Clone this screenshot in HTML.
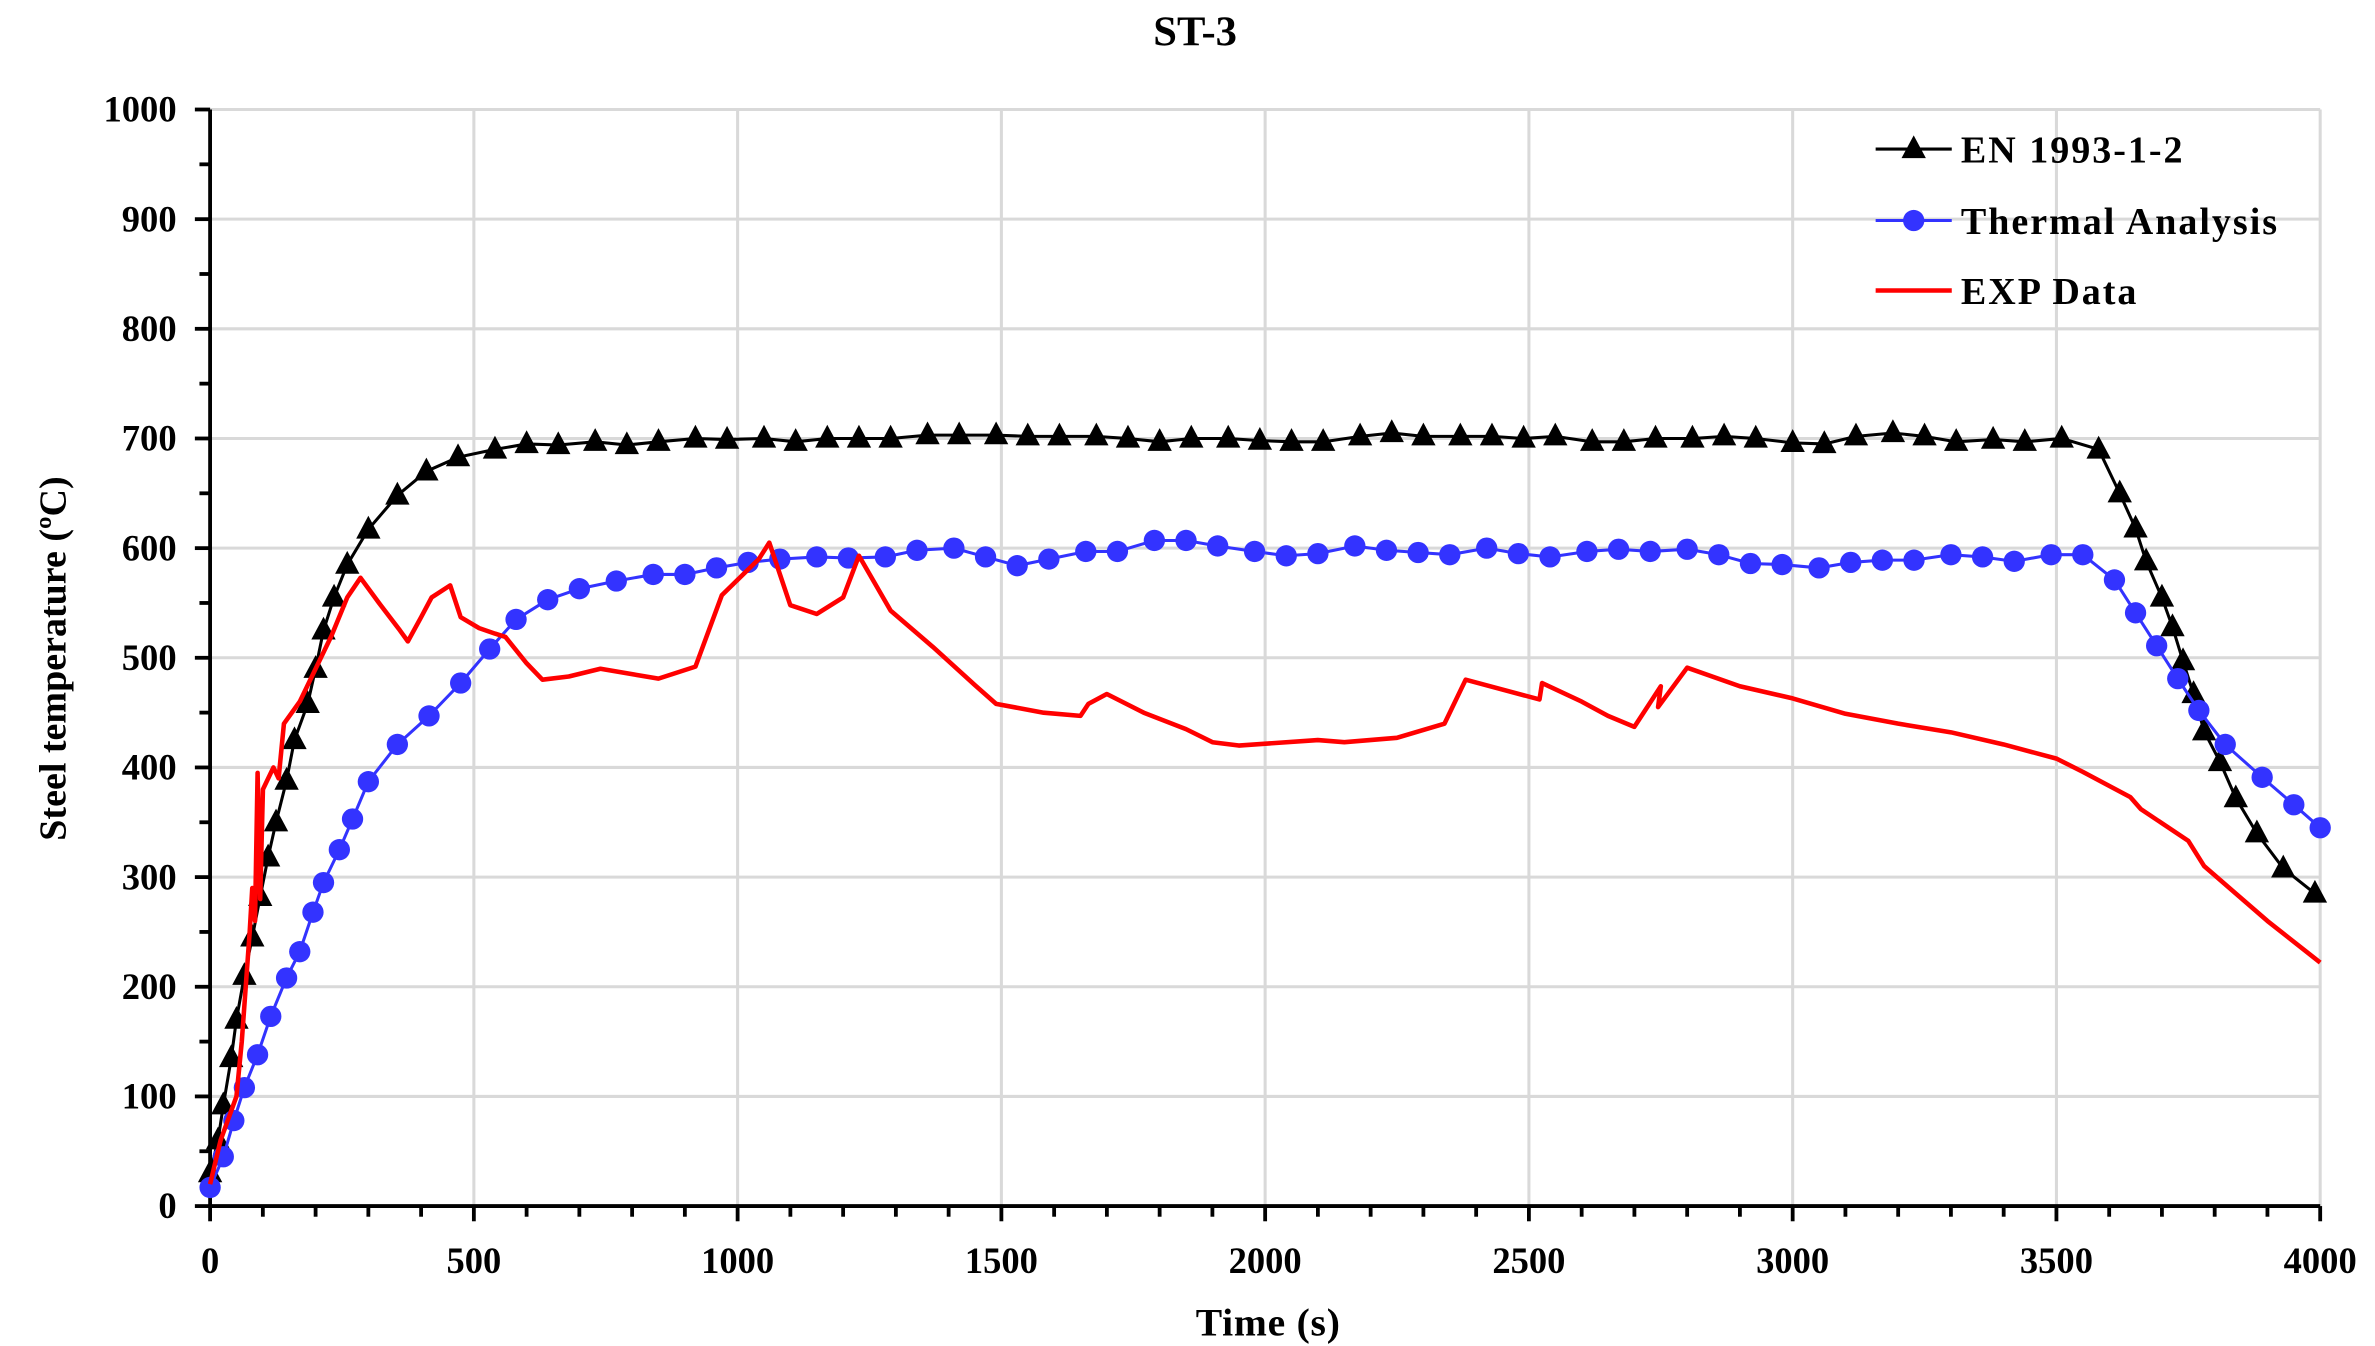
<!DOCTYPE html>
<html><head><meta charset="utf-8"><style>
html,body{margin:0;padding:0;background:#fff;}
svg{display:block;}
text{font-family:"Liberation Serif",serif;font-weight:bold;fill:#000;}
</style></head><body>
<svg id="s" width="2375" height="1346" viewBox="0 0 1560 885" preserveAspectRatio="none" xmlns="http://www.w3.org/2000/svg">
<text x="785" y="30" font-size="28" text-anchor="middle">ST-3</text>
<g id="grid" stroke="#d9d9d9" stroke-width="2"></g>
<g id="axes" stroke="#000" stroke-width="2.5"></g>
<g id="labels" font-size="24"></g>
<text x="833" y="878" font-size="26" text-anchor="middle" letter-spacing="0.5">Time  (s)</text>
<text transform="translate(43,433) rotate(-90)" font-size="25" text-anchor="middle">Steel temperature  (ºC)</text>
<g id="series"></g>
<g font-size="25" letter-spacing="1.3">
<line x1="1232" y1="98" x2="1282" y2="98" stroke="#000" stroke-width="2"/><polygon points="1257,89 1249,104 1265,104" fill="#000"/>
<text x="1288" y="107">EN 1993-1-2</text>
<line x1="1232" y1="145" x2="1282" y2="145" stroke="#3333ff" stroke-width="2"/><circle cx="1257" cy="145" r="7" fill="#3333ff"/>
<text x="1288" y="154">Thermal Analysis</text>
<line x1="1232" y1="191" x2="1282" y2="191" stroke="#ff0000" stroke-width="3"/>
<text x="1288" y="200">EXP Data</text>
</g>
</svg>
<script>
const X=t=>138+t*(1524-138)/4000, Y=v=>793-v*(793-72)/1000;
const NS="http://www.w3.org/2000/svg";
function el(p,n,a){const e=document.createElementNS(NS,n);for(const k in a)e.setAttribute(k,a[k]);document.getElementById(p).appendChild(e);return e;}
for(let t=500;t<=4000;t+=500)el("grid","line",{x1:X(t),y1:72,x2:X(t),y2:793});
for(let v=100;v<=1000;v+=100)el("grid","line",{x1:138,y1:Y(v),x2:1524,y2:Y(v)});
el("axes","line",{x1:138,y1:72,x2:138,y2:794});
el("axes","line",{x1:137,y1:793,x2:1524,y2:793});
for(let v=0;v<=1000;v+=50)el("axes","line",{x1:v%100?131:128,y1:Y(v),x2:138,y2:Y(v)});
for(let t=0;t<=4000;t+=100)el("axes","line",{x1:X(t),y1:793,x2:X(t),y2:t%500?800:803});
for(let v=0;v<=1000;v+=100){const e=el("labels","text",{x:116,y:Y(v)+8,"text-anchor":"end"});e.textContent=v;}
for(let t=0;t<=4000;t+=500){const e=el("labels","text",{x:X(t),y:837,"text-anchor":"middle"});e.textContent=t;}
const en=[[0,30],[15,60],[25,92],[40,135],[50,170],[65,210],[80,245],[95,282],[110,318],[125,350],[145,388],[160,425],[185,458],[200,490],[215,525],[235,555],[260,585],[300,617],[355,648],[410,670],[470,683],[540,690],[600,695],[660,694],[730,697],[790,694],[850,697],[920,700],[980,699],[1050,700],[1110,697],[1170,700],[1230,700],[1290,700],[1360,703],[1420,703],[1490,703],[1550,702],[1610,702],[1680,702],[1740,700],[1800,697],[1860,700],[1930,700],[1990,698],[2050,697],[2110,697],[2180,702],[2240,705],[2300,702],[2370,702],[2430,702],[2490,700],[2550,702],[2620,697],[2680,697],[2740,700],[2810,700],[2870,702],[2930,700],[3000,696],[3060,695],[3120,702],[3190,705],[3250,702],[3310,697],[3380,699],[3440,697],[3510,700],[3580,690],[3620,650],[3650,618],[3670,588],[3700,555],[3720,528],[3740,497],[3760,467],[3780,433],[3810,405],[3840,372],[3880,340],[3930,308],[3990,285]];
const th=[[0,17],[25,45],[45,78],[65,108],[90,138],[115,173],[145,208],[170,232],[195,268],[215,295],[245,325],[270,353],[300,387],[355,421],[415,447],[475,477],[530,508],[580,535],[640,553],[700,563],[770,570],[840,576],[900,576],[960,582],[1020,587],[1080,590],[1150,592],[1210,591],[1280,592],[1340,598],[1410,600],[1470,592],[1530,584],[1590,590],[1660,597],[1720,597],[1790,607],[1850,607],[1910,602],[1980,597],[2040,593],[2100,595],[2170,602],[2230,598],[2290,596],[2350,594],[2420,600],[2480,595],[2540,592],[2610,597],[2670,599],[2730,597],[2800,599],[2860,594],[2920,586],[2980,585],[3050,582],[3110,587],[3170,589],[3230,589],[3300,594],[3360,592],[3420,588],[3490,594],[3550,594],[3610,571],[3650,541],[3690,511],[3730,481],[3770,452],[3820,421],[3890,391],[3950,366],[4000,345]];
const ex=[[0,20],[20,60],[50,100],[60,150],[75,250],[80,290],[85,260],[90,395],[95,280],[100,380],[120,400],[130,390],[140,440],[170,460],[200,490],[230,520],[260,555],[285,573],[320,550],[360,525],[375,515],[400,537],[420,555],[455,566],[475,537],[510,527],[540,522],[560,519],[600,495],[630,480],[680,483],[740,490],[850,481],[920,492],[970,557],[1040,590],[1060,605],[1100,548],[1150,540],[1200,555],[1230,593],[1290,543],[1370,510],[1450,475],[1490,458],[1580,450],[1650,447],[1665,458],[1700,467],[1770,450],[1850,435],[1900,423],[1950,420],[2100,425],[2150,423],[2250,427],[2340,440],[2380,480],[2520,462],[2525,477],[2600,460],[2650,447],[2700,437],[2750,474],[2745,455],[2800,491],[2900,474],[3000,463],[3100,449],[3200,440],[3300,432],[3400,421],[3500,408],[3550,396],[3640,373],[3660,362],[3750,333],[3780,310],[3900,260],[4000,222]];
const pts=a=>a.map(p=>X(p[0]).toFixed(1)+","+Y(p[1]).toFixed(1)).join(" ");
el("series","polyline",{points:pts(en),fill:"none",stroke:"#000","stroke-width":2});
en.forEach(p=>{const x=X(p[0]),y=Y(p[1]);el("series","polygon",{points:`${x},${y-9} ${x-8},${y+6} ${x+8},${y+6}`,fill:"#000"});});
el("series","polyline",{points:pts(th),fill:"none",stroke:"#3333ff","stroke-width":2});
th.forEach(p=>el("series","circle",{cx:X(p[0]),cy:Y(p[1]),r:7,fill:"#3333ff"}));
el("series","polyline",{points:pts(ex),fill:"none",stroke:"#ff0000","stroke-width":3,"stroke-linejoin":"round"});
</script>
</body></html>
